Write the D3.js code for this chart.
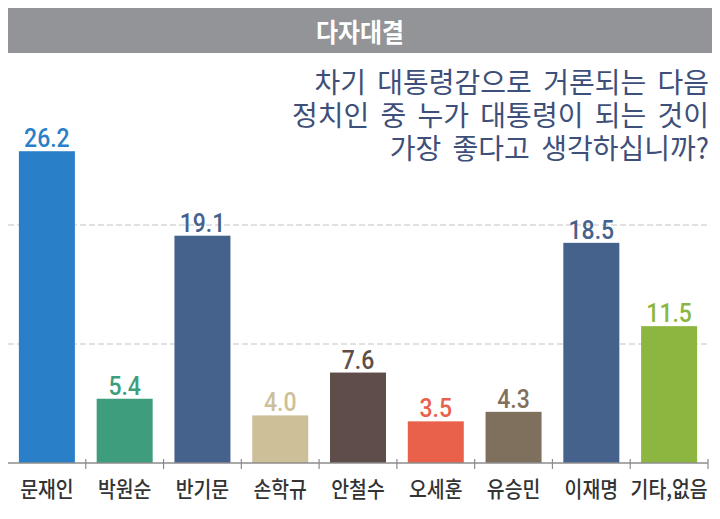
<!DOCTYPE html>
<html>
<head>
<meta charset="utf-8">
<script src="https://cdn.jsdelivr.net/npm/d3@7"></script>
<style>
  body { margin: 0; background: #fff; }
  svg { display: block; }
</style>
</head>
<body>
<svg id="chart" width="720" height="519"></svg>
<script>
// 다자대결 -- bar chart

var title = "다자대결";
var question = ["차기 대통령감으로 거론되는 다음",
                "정치인 중 누가 대통령이 되는 것이",
                "가장 좋다고 생각하십니까?"];
var names = ["문재인", "박원순", "반기문", "손학규", "안철수", "오세훈", "유승민", "이재명", "기타,없음"];
var values = [26.2, 5.4, 19.1, 4.0, 7.6, 3.5, 4.3, 18.5, 11.5];
var colors = ["#2a7fc9", "#3d9d7d", "#44628b", "#cdbf98", "#5e4d48", "#e9604b", "#7f705e", "#44628b", "#8cb63f"];
var gridValues = [10, 20];

var svg = d3.select("#chart");
var W = 720, baseY = 463;

///////////////////////////////////////////////////////////////////////////////
// Header

svg.append("rect")
  .attr("x", 8).attr("y", 8)
  .attr("width", W - 16).attr("height", 45)
  .attr("fill", "#929497");

svg.append("text")
  .attr("transform", "translate(" + W / 2 + ",42) scale(0.92,1)")
  .attr("text-anchor", "middle")
  .attr("font-family", "Noto Sans CJK KR")
  .attr("font-weight", 700)
  .attr("font-size", 26)
  .attr("fill", "#fff")
  .text(title);

///////////////////////////////////////////////////////////////////////////////
// Scales

var x = d3.scaleBand()
  .domain(names)
  .range([8, 708])
  .paddingInner(0.28)
  .paddingOuter(0.14);

var y = d3.scaleLinear()
  .domain([0, 10])
  .range([baseY, baseY - 119]);

// dashed grid lines
svg.append("g").selectAll("line")
  .data(gridValues)
  .enter().append("line")
  .attr("x1", 8).attr("x2", 708)
  .attr("y1", function (d) { return y(d); })
  .attr("y2", function (d) { return y(d); })
  .attr("stroke", "#c4c4c4")
  .attr("stroke-width", 1.2)
  .attr("stroke-dasharray", "6,3");

///////////////////////////////////////////////////////////////////////////////
// Question (one text block, a tspan per line)

svg.append("text")
  .attr("text-anchor", "end")
  .attr("font-family", "Noto Sans CJK KR")
  .attr("font-size", 28)
  .attr("word-spacing", 5)
  .attr("fill", "#3e4f79")
  .selectAll("tspan")
  .data(question)
  .enter().append("tspan")
  .attr("x", 709)
  .attr("y", function (d, i) { return 93 + i * 33; })
  .text(function (d) { return d; });

///////////////////////////////////////////////////////////////////////////////
// Bars

svg.append("g").selectAll("rect")
  .data(values)
  .enter().append("rect")
  .attr("x", function (d, i) { return x(names[i]); })
  .attr("y", function (d) { return y(d); })
  .attr("width", x.bandwidth())
  .attr("height", function (d) { return baseY - y(d); })
  .attr("fill", function (d, i) { return colors[i]; });

svg.append("g").selectAll("text")
  .data(values)
  .enter().append("text")
  .attr("transform", function (d, i) {
    return "translate(" + (x(names[i]) + x.bandwidth() / 2) + "," + (y(d) - 4) + ") scale(0.92,1)";
  })
  .attr("text-anchor", "middle")
  .attr("font-family", "Roboto")
  .attr("font-weight", 500)
  .attr("font-size", 25)
  .attr("fill", function (d, i) { return colors[i]; })
  .text(function (d) { return d.toFixed(1); });

///////////////////////////////////////////////////////////////////////////////
// Axis

var step = x.step();
var axis = svg.append("g");
axis.append("line")
  .attr("x1", 8).attr("x2", 708)
  .attr("y1", baseY).attr("y2", baseY)
  .attr("stroke", "#8c8c8c")
  .attr("stroke-width", 1.5);

axis.selectAll("line.tick")
  .data(names)
  .enter().append("line")
  .attr("class", "tick")
  .attr("x1", function (d) { return x(d) + x.bandwidth() + step * x.paddingInner() / 2; })
  .attr("x2", function (d) { return x(d) + x.bandwidth() + step * x.paddingInner() / 2; })
  .attr("y1", baseY - 4).attr("y2", baseY + 6)
  .attr("stroke", "#8c8c8c")
  .attr("stroke-width", 1.2);

axis.selectAll("text")
  .data(names)
  .enter().append("text")
  .attr("transform", function (d) {
    return "translate(" + (x(d) + x.bandwidth() / 2) + ",497) scale(0.88,1)";
  })
  .attr("text-anchor", "middle")
  .attr("font-family", "Noto Sans CJK KR")
  .attr("font-weight", 500)
  .attr("font-size", 22)
  .attr("fill", "#333")
  .text(function (d) { return d; });
</script>
</body>
</html>
